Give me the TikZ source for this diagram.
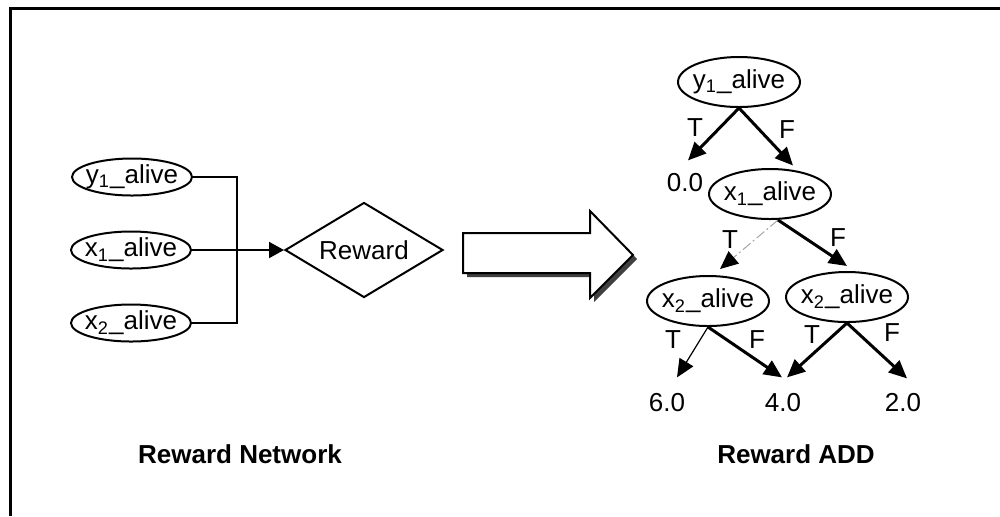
\documentclass[tikz,border=0pt]{standalone}
\usepackage{fontspec}
\setmainfont{Liberation Sans}
\usetikzlibrary{shapes.geometric,arrows.meta,shadows}

\begin{document}
\begin{tikzpicture}[x=0.5pt,y=-0.5pt,
  txt/.style={font=\fontsize{13}{16}\selectfont},
  lvar/.style={txt,ellipse,draw,line width=1pt,inner xsep=-3pt,inner ysep=0pt,minimum width=60pt,minimum height=18.5pt},
  rvar/.style={txt,ellipse,draw,line width=1pt,inner xsep=-3pt,inner ysep=0pt,minimum width=61pt,minimum height=25pt},
  rwd/.style={txt,diamond,draw,line width=1pt,inner sep=0pt,aspect=1.66,minimum width=79pt,minimum height=47.5pt},
  val/.style={txt,inner sep=0pt},
  lab/.style={txt,inner sep=0pt},
  ttl/.style={font=\fontsize{13}{15}\selectfont\bfseries,inner sep=0pt},
  wire/.style={line width=1pt},
  tip/.style={-{Triangle[length=9pt,width=8pt,color=black,fill=black]}},
  heavy/.style={tip,line width=1.5pt},
  light/.style={tip,line width=0.6pt},
  faint/.style={tip,line width=0.5pt,gray!70,dash pattern=on 5pt off 1.5pt on 1pt off 1.5pt}
]
\useasboundingbox (0,0) rectangle (1000,516);

% frame
\draw[line width=1.5pt] (10.5,516) -- (10.5,8.5) -- (1000,8.5);

% reward network
\node[lvar] (ly1) at (132,177) {y\textsubscript{1}\_alive};
\node[lvar] (lx1) at (131,250) {x\textsubscript{1}\_alive};
\node[lvar] (lx2) at (131,323) {x\textsubscript{2}\_alive};
\node[rwd] (rw) at (364,250) {Reward};
\coordinate (jn) at (237,250);
\draw[wire] (ly1.east) -| (jn);
\draw[wire] (lx2.east) -| (jn);
\draw[wire,-{Triangle[length=7.5pt,width=8pt]}] (lx1.east) -- (rw.west);

% conversion arrow
\draw[line width=1pt,fill=white,
  drop shadow={shadow xshift=2pt,shadow yshift=-2pt,fill=black!75,opacity=1}]
  (463,233) -- (590,233) -- (590,211) -- (633,255) -- (590,298) -- (590,273) -- (463,273) -- cycle;

% reward ADD
\node[rvar] (ry1) at (739,82) {y\textsubscript{1}\_alive};
\node[rvar] (rx1) at (770,194) {x\textsubscript{1}\_alive};
\node[rvar] (rx2a) at (708,301) {x\textsubscript{2}\_alive};
\node[rvar] (rx2b) at (847,297) {x\textsubscript{2}\_alive};
\node[val] (v0) at (685,183) {0.0};
\node[val] (v6) at (667,403) {6.0};
\node[val] (v4) at (783,403) {4.0};
\node[val] (v2) at (903,403) {2.0};

\draw[heavy] (ry1.south) -- ([shift={(3,-13)}]v0.north);
\draw[heavy] (ry1.south) -- ([shift={(23,-2.5)}]rx1.north);
\draw[faint] ([shift={(8,0)}]rx1.south) -- ([shift={(12,-6)}]rx2a.north);
\draw[heavy] ([shift={(8,0)}]rx1.south) -- ([shift={(0,-5)}]rx2b.north);
\draw[light] (rx2a.south) -- ([shift={(10,-16)}]v6.north);
\draw[heavy] (rx2a.south) -- ([shift={(-1,-16)}]v4.north);
\draw[heavy] (rx2b.south) -- ([shift={(4,-16)}]v4.north);
\draw[heavy] (rx2b.south) -- ([shift={(4,-15)}]v2.north);

\node[lab] (ta1) at (695,128) {T};
\node[lab] (fa1) at (787,130) {F};
\node[lab] (ta2) at (730,240) {T};
\node[lab] (fa2) at (838,238) {F};
\node[lab] (ta3) at (673,340) {T};
\node[lab] (fa3) at (757,340) {F};
\node[lab] (ta4) at (812,335) {T};
\node[lab] (fa4) at (892,333) {F};

% captions
\node[ttl] (capn) at (240,454) {Reward Network};
\node[ttl] (capa) at (796,454) {Reward ADD};
\end{tikzpicture}
\end{document}
